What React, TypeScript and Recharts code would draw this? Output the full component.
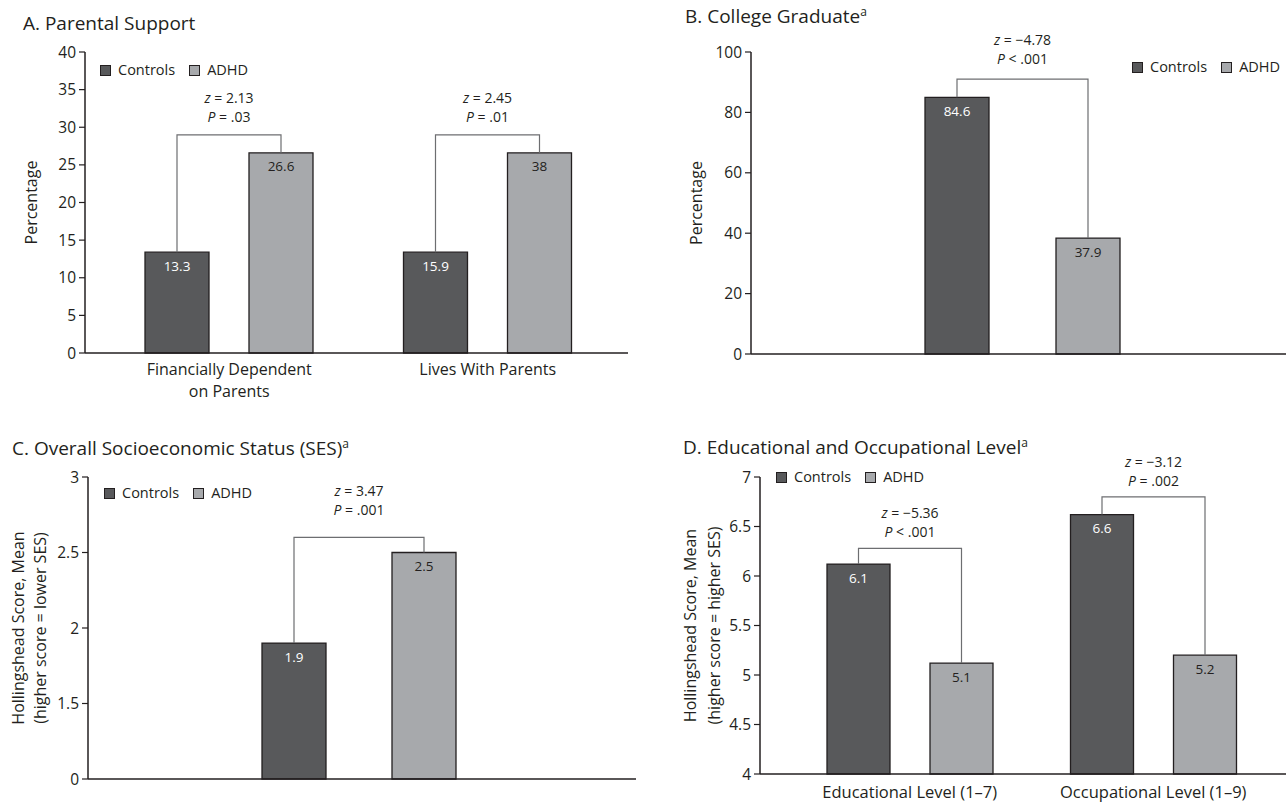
import React from 'react';
import { BarChart, Bar, XAxis, YAxis, Legend, LabelList, Label, Rectangle } from 'recharts';

const FONT = '"Open Sans", "Noto Sans", Arial, sans-serif';
const INK = '#231f20';
const CONTROLS_FILL = '#58595b';
const ADHD_FILL = '#a7a9ac';
const BRACKET = '#6d6e71';

// A. Parental Support
// the source figure draws both pairs of bars at the first pair's heights, labels differ
const supportCategories = ['Financially Dependent\non Parents', 'Lives With Parents'];
const supportControls = [13.4, 13.4];
const supportAdhd = [26.6, 26.6];
const supportControlsText = ['13.3', '15.9'];
const supportAdhdText = ['26.6', '38'];
const supportBracket = [29, 29];
const supportZ = ['2.13', '2.45'];
const supportP = ['= .03', '= .01'];
const supportTicks = [0, 5, 10, 15, 20, 25, 30, 35, 40];

// B. College Graduate
const collegeCategories = [''];
const collegeControls = [85];
const collegeAdhd = [38.4];
const collegeControlsText = ['84.6'];
const collegeAdhdText = ['37.9'];
const collegeBracket = [91];
const collegeZ = ['\u22124.78'];
const collegeP = ['< .001'];
const collegeTicks = [0, 20, 40, 60, 80, 100];

// C. Overall SES (broken axis: bottom tick is printed as 0)
const sesCategories = [''];
const sesControls = [1.9];
const sesAdhd = [2.5];
const sesControlsText = ['1.9'];
const sesAdhdText = ['2.5'];
const sesBracket = [2.6];
const sesZ = ['3.47'];
const sesP = ['= .001'];
const sesTicks = [1, 1.5, 2, 2.5, 3];
const sesTickText = ['0', '1.5', '2', '2.5', '3'];

// D. Educational and Occupational Level
const levelCategories = ['Educational Level (1\u20137)', 'Occupational Level (1\u20139)'];
const levelControls = [6.12, 6.62];
const levelAdhd = [5.12, 5.2];
const levelControlsText = ['6.1', '6.6'];
const levelAdhdText = ['5.1', '5.2'];
const levelBracket = [6.28, 6.8];
const levelZ = ['\u22125.36', '\u22123.12'];
const levelP = ['< .001', '= .002'];
const levelTicks = [4, 4.5, 5, 5.5, 6, 6.5, 7];

const legendOrder = ['Controls', 'ADHD'];

type Row = {
  name: string;
  controls: number;
  adhd: number;
  controlsText: string;
  adhdText: string;
  bracket: number;
  z: string;
  p: string;
};

function buildRows(
  names: string[], controls: number[], adhd: number[], controlsText: string[],
  adhdText: string[], bracket: number[], z: string[], p: string[]
): Row[] {
  return names.map((name, i) => ({
    name,
    controls: controls[i],
    adhd: adhd[i],
    controlsText: controlsText[i],
    adhdText: adhdText[i],
    bracket: bracket[i],
    z: z[i],
    p: p[i],
  }));
}

const supportRows = buildRows(supportCategories, supportControls, supportAdhd, supportControlsText, supportAdhdText, supportBracket, supportZ, supportP);
const collegeRows = buildRows(collegeCategories, collegeControls, collegeAdhd, collegeControlsText, collegeAdhdText, collegeBracket, collegeZ, collegeP);
const sesRows = buildRows(sesCategories, sesControls, sesAdhd, sesControlsText, sesAdhdText, sesBracket, sesZ, sesP);
const levelRows = buildRows(levelCategories, levelControls, levelAdhd, levelControlsText, levelAdhdText, levelBracket, levelZ, levelP);

// ADHD bar + the comparison bracket and z / P text above the pair
function bracketShape(min: number, barSize: number, barGap: number, zUp: number, pUp: number) {
  return (props: any) => {
    const { x, y, width, height, payload } = props;
    const bottom = y + height;
    const perUnit = height / (payload.adhd - min);
    const toPx = (v: number) => bottom - (v - min) * perUnit;
    const right = x + width / 2;
    const left = x - barGap - barSize / 2;
    const top = toPx(payload.bracket);
    const mid = (left + right) / 2;
    return (
      <g>
        <Rectangle x={x} y={y} width={width} height={height} fill={ADHD_FILL} stroke={INK} strokeWidth={1.3} />
        <polyline
          points={`${left},${toPx(payload.controls)} ${left},${top} ${right},${top} ${right},${y}`}
          fill="none"
          stroke={BRACKET}
          strokeWidth={1.2}
        />
        <text x={mid} y={top - zUp} dy="0.35em" textAnchor="middle" fontSize={14} fill={INK} fontFamily={FONT}>
          <tspan fontStyle="italic">z</tspan> = {payload.z}
        </text>
        <text x={mid} y={top - pUp} dy="0.35em" textAnchor="middle" fontSize={14} fill={INK} fontFamily={FONT}>
          <tspan fontStyle="italic">P</tspan> {payload.p}
        </text>
      </g>
    );
  };
}

const axisTitle = (lines: string[], xs: number[]) => (props: any) => {
  const vb = props.viewBox || {};
  const cy = (vb.y ?? 0) + (vb.height ?? 0) / 2;
  return (
    <g>
      {lines.map((t, i) => (
        <text
          key={i}
          x={xs[i]}
          y={cy}
          transform={`rotate(-90 ${xs[i]} ${cy})`}
          textAnchor="middle"
          dominantBaseline="central"
          fontSize={16}
          fill={INK}
          fontFamily={FONT}
        >
          {t}
        </text>
      ))}
    </g>
  );
};

const MultiTick = (props: any) => {
  const { x, y, payload } = props;
  const lines = String(payload.value).split('\n');
  return (
    <g>
      {lines.map((l, i) => (
        <text key={i} x={x} y={y + i * 22} dy="0.71em" textAnchor="middle" fontSize={16} fill={INK} fontFamily={FONT}>
          {l}
        </text>
      ))}
    </g>
  );
};

const LegendContent = (props: any) => {
  const items = [...(props.payload ?? [])].sort(
    (a: any, b: any) => legendOrder.indexOf(a.value) - legendOrder.indexOf(b.value)
  );
  return (
    <div style={{ display: 'flex', alignItems: 'center', fontFamily: FONT, fontSize: 14.5, color: INK, lineHeight: '20px', whiteSpace: 'nowrap' }}>
      {items.map((it: any, i: number) => (
        <span key={i} style={{ display: 'flex', alignItems: 'center', marginRight: 14 }}>
          <span style={{ width: 11, height: 11, boxSizing: 'border-box', background: it.color, border: `1px solid ${INK}`, marginRight: 7 }} />
          {it.value}
        </span>
      ))}
    </div>
  );
};

type PanelProps = {
  rows: Row[];
  width: number;
  height: number;
  yWidth: number;
  xHeight: number;
  top: number;
  right: number;
  domain: [number, number];
  ticks: number[];
  tickText?: (v: number) => string;
  pad: { left: number; right: number };
  barSize: number;
  barGap: number;
  legendLeft: number;
  legendMid: number;
  yTitle: string[];
  yTitleX: number[];
  xTick: any;
  xTickMargin: number;
  zUp: number;
  pUp: number;
};

function Panel(p: PanelProps) {
  return (
    <BarChart
      width={p.width}
      height={p.height}
      data={p.rows}
      margin={{ top: p.top, right: p.right, bottom: 0, left: 0 }}
      barSize={p.barSize}
      barGap={p.barGap}
    >
      <XAxis
        dataKey="name"
        height={p.xHeight}
        padding={p.pad}
        axisLine={{ stroke: INK, strokeWidth: 1.5 }}
        tickLine={false}
        tickSize={0}
        tickMargin={p.xTickMargin}
        tick={p.xTick}
        interval={0}
      />
      <YAxis
        width={p.yWidth}
        domain={p.domain}
        ticks={p.ticks}
        interval={0}
        tickFormatter={p.tickText}
        axisLine={{ stroke: INK, strokeWidth: 1.5 }}
        tickLine={{ stroke: INK, strokeWidth: 1.2 }}
        tickSize={6}
        tickMargin={3}
        tick={{ fill: INK, fontSize: 15.5, fontFamily: FONT }}
      >
        <Label content={axisTitle(p.yTitle, p.yTitleX)} />
      </YAxis>
      <Legend
        layout="horizontal"
        verticalAlign="middle"
        align="center"
        wrapperStyle={{ left: p.legendLeft, top: p.legendMid - 10, width: 'auto' }}
        content={LegendContent}
      />
      <Bar dataKey="controls" name="Controls" fill={CONTROLS_FILL} stroke={INK} strokeWidth={1.3} isAnimationActive={false}>
        <LabelList dataKey="controlsText" position="insideTop" offset={9} fill="#ffffff" fontSize={13.5} fontFamily={FONT} />
      </Bar>
      <Bar
        dataKey="adhd"
        name="ADHD"
        fill={ADHD_FILL}
        stroke={INK}
        strokeWidth={1.3}
        isAnimationActive={false}
        shape={bracketShape(p.domain[0], p.barSize, p.barGap, p.zUp, p.pUp)}
      >
        <LabelList dataKey="adhdText" position="insideTop" offset={9} fill={INK} fontSize={13.5} fontFamily={FONT} />
      </Bar>
    </BarChart>
  );
}

const Title = ({ left, top, text, sup }: { left: number; top: number; text: string; sup?: boolean }) => (
  <div style={{ position: 'absolute', left, top, fontSize: 19, lineHeight: '22px', whiteSpace: 'nowrap', color: INK }}>
    {text}
    {sup && <sup style={{ fontSize: 12, lineHeight: 0 }}>a</sup>}
  </div>
);

export default function App() {
  const plainTick = { fill: INK, fontSize: 16.5, fontFamily: FONT };
  return (
    <div style={{ position: 'absolute', left: 0, top: 0, width: 1286, height: 802, background: '#ffffff', fontFamily: FONT, overflow: 'hidden' }}>
      <Title left={23} top={12} text="A. Parental Support" />
      <Title left={685} top={5} text="B. College Graduate" sup />
      <Title left={12} top={437} text="C. Overall Socioeconomic Status (SES)" sup />
      <Title left={683} top={436} text="D. Educational and Occupational Level" sup />

      <div style={{ position: 'absolute', left: 0, top: 0 }}>
        <Panel
          rows={supportRows}
          width={640}
          height={412}
          yWidth={85}
          xHeight={59}
          top={52}
          right={12}
          domain={[0, 40]}
          ticks={supportTicks}
          pad={{ left: 15, right: 11 }}
          barSize={64}
          barGap={40}
          legendLeft={100}
          legendMid={70}
          yTitle={['Percentage']}
          yTitleX={[31]}
          xTick={MultiTick}
          xTickMargin={11}
          zUp={37}
          pUp={18}
        />
      </div>

      <div style={{ position: 'absolute', left: 640, top: 0 }}>
        <Panel
          rows={collegeRows}
          width={646}
          height={400}
          yWidth={111}
          xHeight={46}
          top={52}
          right={0}
          domain={[0, 100]}
          ticks={collegeTicks}
          pad={{ left: 7, right: 0 }}
          barSize={64}
          barGap={67}
          legendLeft={492}
          legendMid={67}
          yTitle={['Percentage']}
          yTitleX={[56]}
          xTick={false}
          xTickMargin={0}
          zUp={39}
          pUp={20}
        />
      </div>

      <div style={{ position: 'absolute', left: 0, top: 400 }}>
        <Panel
          rows={sesRows}
          width={640}
          height={402}
          yWidth={88}
          xHeight={23}
          top={77}
          right={4}
          domain={[1, 3]}
          ticks={sesTicks}
          tickText={(v: number) => sesTickText[sesTicks.indexOf(v)] ?? String(v)}
          pad={{ left: 0, right: 6 }}
          barSize={64}
          barGap={66}
          legendLeft={104}
          legendMid={93}
          yTitle={['Hollingshead Score, Mean', '(higher score = lower SES)']}
          yTitleX={[18, 40]}
          xTick={false}
          xTickMargin={0}
          zUp={46}
          pUp={27}
        />
      </div>

      <div style={{ position: 'absolute', left: 640, top: 400 }}>
        <Panel
          rows={levelRows}
          width={646}
          height={402}
          yWidth={120}
          xHeight={28}
          top={77}
          right={0}
          domain={[4, 7]}
          ticks={levelTicks}
          pad={{ left: 28, right: 11 }}
          barSize={63}
          barGap={40}
          legendLeft={136}
          legendMid={77}
          yTitle={['Hollingshead Score, Mean', '(higher score = higher SES)']}
          yTitleX={[50, 74]}
          xTick={plainTick}
          xTickMargin={12}
          zUp={35}
          pUp={16}
        />
      </div>
    </div>
  );
}
